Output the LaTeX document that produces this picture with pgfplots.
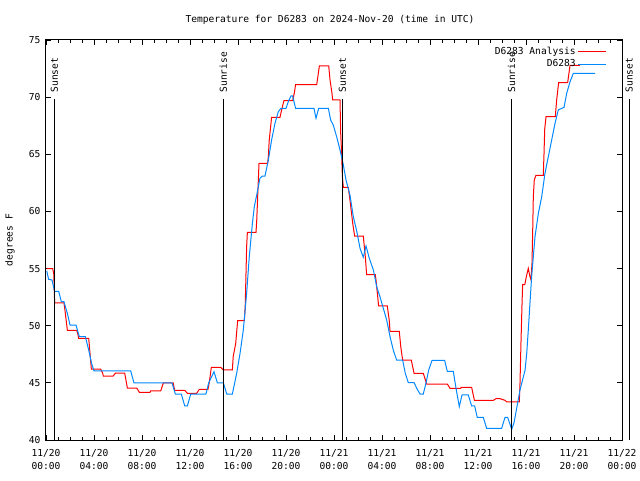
\documentclass[border=0pt]{standalone}
\usepackage{pgfplots}
\pgfplotsset{compat=1.18}
\usepackage{fontspec}
\setmainfont{DejaVu Sans Mono}
\definecolor{anared}{RGB}{255,0,0}
\definecolor{obsblue}{RGB}{0,136,255}
\newcommand{\gf}{\fontsize{9.6}{13}\selectfont}
\begin{document}
\begin{tikzpicture}
\useasboundingbox (0,0) rectangle (640pt,480pt);
\begin{axis}[
  at={(46pt,40pt)}, anchor=south west,
  scale only axis, width=576pt, height=400pt,
  xmin=0, xmax=48, ymin=40, ymax=75,
  xtick={0,4,...,48},
  xticklabels={{11/20\\00:00},{11/20\\04:00},{11/20\\08:00},{11/20\\12:00},{11/20\\16:00},{11/20\\20:00},{11/21\\00:00},{11/21\\04:00},{11/21\\08:00},{11/21\\12:00},{11/21\\16:00},{11/21\\20:00},{11/22\\00:00}},
  minor x tick num=3,
  ytick={40,45,...,75},
  /pgf/number format/assume math mode=true,
  tick label style={font=\gf},
  xticklabel style={align=center, yshift=-6pt},
  yticklabel style={xshift=-2pt},
  tick style={black, line width=0.8pt},
  major tick length=5pt, minor tick length=3pt,
  axis line style={line width=1pt},
  clip=false,
  legend plot pos=right,
  legend cell align=right,
  legend image code/.code={\draw[#1] (4pt,0pt) -- (32pt,0pt);},
  legend style={at={(0.979,0.993)}, anchor=north east, draw=none, fill=none, font=\gf, row sep=0pt, nodes={inner sep=2pt}},
]
\addplot[anared, line width=1pt] coordinates {
(0.06,55.0) (0.56,55.0) (0.65,54.5) (0.72,52.0) (1.5,52.0) (1.61,51.1) (1.78,49.6) (2.56,49.6) (2.67,49.2) (2.72,48.9) (3.56,48.9) (3.78,46.2) (4.56,46.2) (4.72,45.85) (4.78,45.6) (5.6,45.6) (5.78,45.85) (6.56,45.85) (6.78,44.55) (7.56,44.55) (7.78,44.17) (8.67,44.17) (8.72,44.29) (9.56,44.29) (9.78,45.0) (10.6,45.0) (10.72,44.35) (11.56,44.35) (11.78,44.09) (12.56,44.09) (12.78,44.44) (13.5,44.44) (13.6,45.0) (13.78,46.36) (14.56,46.36) (14.78,46.13) (15.53,46.13) (15.6,47.3) (15.81,48.46) (15.97,50.44) (16.53,50.44) (16.6,51.67) (16.72,56.9) (16.78,58.17) (17.5,58.17) (17.56,59.2) (17.75,64.2) (18.47,64.2) (18.53,64.8) (18.6,66.2) (18.8,68.24) (19.5,68.24) (19.64,68.9) (19.83,69.7) (20.56,69.7) (20.7,70.4) (20.8,71.1) (22.56,71.1) (22.78,72.73) (23.56,72.73) (23.67,71.5) (23.83,70.35) (23.89,69.75) (24.5,69.75) (24.56,66.8) (24.64,64.94) (24.7,63.0) (24.78,62.1) (25.19,62.1) (25.33,61.0) (25.56,58.96) (25.72,57.85) (26.44,57.85) (26.61,56.04) (26.72,54.46) (27.44,54.46) (27.5,54.0) (27.72,51.73) (28.44,51.73) (28.6,50.5) (28.67,49.51) (29.44,49.51) (29.56,48.2) (29.72,47.0) (30.44,47.0) (30.67,45.84) (31.44,45.84) (31.72,44.9) (33.44,44.9) (33.67,44.52) (34.56,44.52) (34.6,44.61) (35.47,44.61) (35.7,43.47) (37.28,43.47) (37.5,43.62) (37.83,43.62) (38.25,43.47) (38.4,43.33) (39.44,43.33) (39.5,44.96) (39.58,48.46) (39.67,51.96) (39.72,53.6) (39.9,53.6) (40.03,54.3) (40.19,55.02) (40.33,54.3) (40.42,54.0) (40.5,55.46) (40.56,58.4) (40.61,61.3) (40.69,62.75) (40.83,63.16) (41.44,63.16) (41.5,65.0) (41.56,67.2) (41.67,68.3) (42.44,68.3) (42.56,69.8) (42.72,71.27) (43.47,71.27) (43.58,72.1) (43.67,72.78) (44.5,72.78)
};
\addlegendentry{D6283 Analysis}
\addplot[obsblue, line width=1pt] coordinates {
(0.06,54.8) (0.22,54.06) (0.5,54.0) (0.72,53.0) (1.06,53.0) (1.28,52.1) (1.5,52.1) (1.8,51.0) (2.0,50.06) (2.5,50.06) (2.78,49.04) (3.28,49.04) (3.56,47.87) (3.8,46.7) (4.0,46.04) (7.06,46.04) (7.33,45.0) (10.5,45.0) (10.78,44.02) (11.28,44.02) (11.56,42.98) (11.78,42.98) (12.06,44.02) (13.33,44.02) (13.56,45.0) (14.0,45.98) (14.28,45.0) (14.78,45.0) (15.06,44.02) (15.53,44.02) (15.89,45.84) (16.17,47.58) (16.44,49.6) (16.72,52.83) (16.94,56.04) (17.2,58.96) (17.36,60.42) (17.56,61.44) (17.83,62.9) (18.03,63.1) (18.25,63.1) (18.53,64.5) (18.8,66.25) (19.08,67.71) (19.36,68.73) (19.58,69.02) (20.0,69.02) (20.22,69.7) (20.42,70.1) (20.55,70.1) (20.8,69.02) (22.33,69.02) (22.5,68.15) (22.72,69.02) (23.53,69.02) (23.72,68.0) (23.94,67.56) (24.22,66.54) (24.5,65.38) (24.78,64.06) (25.0,62.75) (25.33,61.44) (25.61,59.54) (25.89,58.3) (26.17,56.77) (26.44,55.99) (26.67,56.98) (26.94,55.9) (27.28,54.88) (27.56,53.41) (27.83,52.54) (28.11,51.52) (28.39,50.5) (28.67,49.04) (28.94,47.87) (29.22,47.0) (29.72,47.0) (29.94,45.84) (30.19,45.02) (30.67,45.02) (30.94,44.44) (31.17,44.02) (31.44,44.02) (31.67,45.0) (31.89,46.12) (32.17,46.97) (33.22,46.97) (33.44,46.01) (33.94,46.01) (34.17,44.52) (34.44,42.92) (34.67,43.94) (35.19,43.94) (35.47,42.98) (35.72,42.98) (35.94,41.98) (36.44,41.98) (36.72,41.02) (37.97,41.02) (38.25,41.98) (38.47,41.98) (38.81,40.93) (39.0,41.5) (39.5,44.37) (39.92,46.1) (40.06,47.58) (40.19,49.6) (40.33,51.96) (40.47,54.29) (40.75,57.79) (41.03,59.83) (41.31,61.29) (41.58,63.33) (41.86,64.79) (42.14,66.25) (42.42,67.71) (42.69,68.88) (43.17,69.11) (43.39,70.33) (43.67,71.35) (43.94,72.08) (45.75,72.08)
};
\addlegendentry{D6283}
\addplot[black, line width=1pt, forget plot] coordinates {(0.69,69.84) (0.69,40)};
\addplot[black, line width=1pt, forget plot] coordinates {(14.78,69.84) (14.78,40)};
\addplot[black, line width=1pt, forget plot] coordinates {(24.69,69.84) (24.69,40)};
\addplot[black, line width=1pt, forget plot] coordinates {(38.8,69.84) (38.8,40)};
\addplot[black, line width=1pt, forget plot] coordinates {(48.6,69.84) (48.6,40)};
\node[rotate=90, anchor=west, font=\gf, inner sep=1pt] at (axis cs:0.69,70.3) {Sunset};
\node[rotate=90, anchor=west, font=\gf, inner sep=1pt] at (axis cs:14.78,70.3) {Sunrise};
\node[rotate=90, anchor=west, font=\gf, inner sep=1pt] at (axis cs:24.69,70.3) {Sunset};
\node[rotate=90, anchor=west, font=\gf, inner sep=1pt] at (axis cs:38.8,70.3) {Sunrise};
\node[rotate=90, anchor=west, font=\gf, inner sep=1pt] at (axis cs:48.6,70.3) {Sunset};
\end{axis}
\node[font=\gf] at (330pt,460pt) {Temperature for D6283 on 2024-Nov-20 (time in UTC)};
\node[rotate=90, font=\gf] at (10pt,240pt) {degrees F};
\end{tikzpicture}
\end{document}
